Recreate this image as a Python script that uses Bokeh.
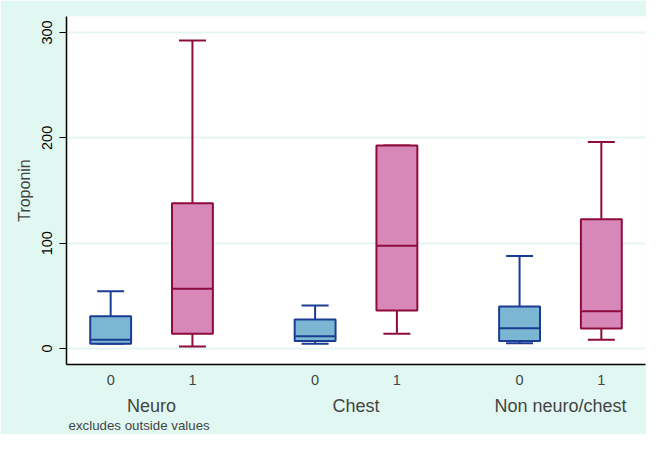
import math
from bokeh.plotting import figure
from bokeh.models import ColumnDataSource, FixedTicker, LinearAxis, Range1d, Title
from bokeh.embed import file_html
from bokeh.resources import INLINE

# ---- data ----
groups = ["Neuro", "Chest", "Non neuro/chest"]
levels = ["0", "1"]
low_whisker = [4.5, 1.9, 4.5, 14.0, 5.0, 8.2]
q1 = [4.6, 14.0, 7.0, 36.0, 7.0, 19.0]
median = [8.3, 56.7, 11.7, 97.5, 19.3, 35.4]
q3 = [30.7, 138.0, 27.5, 192.7, 39.9, 122.8]
high_whisker = [54.4, 292.4, 40.8, 192.7, 87.7, 196.0]
y_ticks = [0, 100, 200, 300]
note = "excludes outside values"

fill_colors = ["#7BB7D2", "#D788B9"]
line_colors = ["#1B3C93", "#8E0C3D"]

GROUP_GAP = 1.5
BOX_W = 0.5
CAP_W = 0.33

xs, fills, lines = [], [], []
for gi, g in enumerate(groups):
    for li, lv in enumerate(levels):
        xs.append(gi * (len(levels) - 1 + GROUP_GAP) + li)
        fills.append(fill_colors[li])
        lines.append(line_colors[li])

src = ColumnDataSource(dict(
    x=xs, lo=low_whisker, q1=q1, med=median, q3=q3, hi=high_whisker,
    cap_l=[v - CAP_W / 2 for v in xs], cap_r=[v + CAP_W / 2 for v in xs],
    box_l=[v - BOX_W / 2 for v in xs], box_r=[v + BOX_W / 2 for v in xs],
    fill=fills, line=lines,
))

FONT = "Liberation Sans"
p = figure(width=646, height=434, output_backend="svg", toolbar_location=None,
           x_range=Range1d(-0.54, 6.54), y_range=Range1d(-15.2, 315.2),
           min_border_left=66, min_border_right=1, min_border_top=16, min_border_bottom=70,
           x_axis_location=None)
p.background_fill_color = "white"
p.border_fill_color = "#E0F8F1"
p.outline_line_color = None

# whiskers
p.segment(x0="x", y0="q3", x1="x", y1="hi", source=src, line_color="line", line_width=2)
p.segment(x0="x", y0="lo", x1="x", y1="q1", source=src, line_color="line", line_width=2)
p.segment(x0="cap_l", y0="hi", x1="cap_r", y1="hi", source=src, line_color="line", line_width=2)
p.segment(x0="cap_l", y0="lo", x1="cap_r", y1="lo", source=src, line_color="line", line_width=2)
# boxes
p.vbar(x="x", width=BOX_W, bottom="q1", top="q3", source=src,
       fill_color="fill", line_color="line", line_width=2)
p.segment(x0="box_l", y0="med", x1="box_r", y1="med", source=src, line_color="line", line_width=2)

# y axis
yax = p.yaxis[0]
yax.ticker = FixedTicker(ticks=y_ticks)
yax.minor_tick_line_color = None
yax.major_tick_in = 0
yax.major_tick_out = 7
yax.axis_line_width = 1.5
yax.major_label_orientation = "vertical"
yax.major_label_text_font = FONT
yax.major_label_text_font_size = "14.5px"
yax.major_label_text_color = "black"
yax.major_label_standoff = 7
yax.axis_label = "Troponin"
yax.axis_label_text_font = FONT
yax.axis_label_text_font_size = "16px"
yax.axis_label_text_font_style = "normal"
yax.axis_label_standoff = 7

p.ygrid.ticker = FixedTicker(ticks=y_ticks)
p.ygrid.grid_line_color = "#E3F6F1"
p.ygrid.grid_line_width = 2
p.xgrid.grid_line_color = None

# x axis with level labels
xax = LinearAxis(ticker=FixedTicker(ticks=xs),
                 major_label_overrides={v: levels[i % len(levels)] for i, v in enumerate(xs)})
xax.major_tick_line_color = None
xax.minor_tick_line_color = None
xax.axis_line_width = 1.5
xax.major_label_text_font = FONT
xax.major_label_text_font_size = "14.5px"
xax.major_label_standoff = 4
p.add_layout(xax, "below")

# group labels
centers = [sum(xs[gi * len(levels):(gi + 1) * len(levels)]) / len(levels) for gi in range(len(groups))]
gax = LinearAxis(ticker=FixedTicker(ticks=centers),
                 major_label_overrides={c: groups[i] for i, c in enumerate(centers)})
gax.axis_line_color = None
gax.major_tick_line_color = None
gax.minor_tick_line_color = None
gax.major_label_text_font = FONT
gax.major_label_text_font_size = "18px"
gax.major_label_standoff = 2
p.add_layout(gax, "below")

t = Title(text=note, align="left", text_font=FONT, text_font_size="13.3px",
          text_font_style="normal", offset=2, standoff=-5)
p.add_layout(t, "below")

open("out.html", "w").write(file_html(p, INLINE))
